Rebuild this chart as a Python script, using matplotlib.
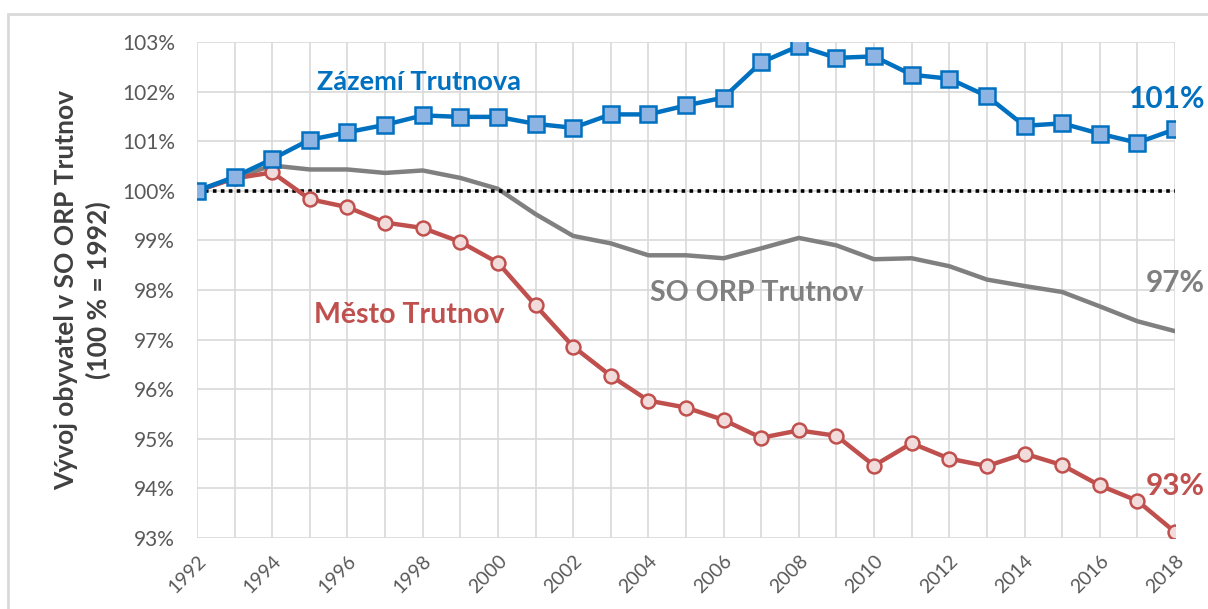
import matplotlib.pyplot as plt
from matplotlib.patches import Rectangle

years = list(range(1992, 2019))

# values in % of 1992
zazemi = [100.0, 100.28, 100.64, 101.03, 101.18, 101.33, 101.52, 101.49, 101.49, 101.35,
          101.27, 101.54, 101.54, 101.72, 101.88, 102.59, 102.92, 102.68, 102.71, 102.34,
          102.26, 101.91, 101.31, 101.36, 101.15, 100.97, 101.24]
orp = [100.0, 100.26, 100.51, 100.43, 100.43, 100.36, 100.41, 100.26, 100.04, 99.53,
       99.09, 98.94, 98.70, 98.70, 98.64, 98.84, 99.05, 98.90, 98.62, 98.64,
       98.48, 98.21, 98.08, 97.96, 97.67, 97.37, 97.17]
mesto = [100.0, 100.25, 100.37, 99.83, 99.67, 99.36, 99.25, 98.97, 98.55, 97.69,
         96.86, 96.27, 95.77, 95.63, 95.38, 95.02, 95.17, 95.06, 94.46, 94.91,
         94.60, 94.45, 94.70, 94.47, 94.06, 93.75, 93.12]

yticks = list(range(93, 104))
xticks = list(range(1992, 2019, 2))

BLUE = '#0070C0'
RED = '#C0504D'
GREY = '#808080'

plt.rcParams['font.family'] = ['Lato', 'DejaVu Sans']

fig = plt.figure(figsize=(12.08, 6.09), dpi=100)
ax = fig.add_axes([197 / 1208, 1 - 538 / 609, (1175 - 197) / 1208, (538 - 42) / 609])

fig.patches.append(Rectangle((8 / 1208, -0.1), 1.2, 1 - 14 / 609 + 0.1,
                             transform=fig.transFigure, fill=False,
                             edgecolor='#d9d9d9', linewidth=2))

ax.plot(years, orp, color=GREY, linewidth=3.2, zorder=3, solid_capstyle='round')
ax.axhline(100, color='black', linestyle=(0, (1, 1.2)), linewidth=2.6, zorder=4)
ax.plot(years, mesto, color=RED, linewidth=3.2, marker='o', markersize=10,
        markerfacecolor='#F2DCDB', markeredgecolor=RED, markeredgewidth=1.8, zorder=5)
ax.plot(years, zazemi, color=BLUE, linewidth=3.2, marker='s', markersize=11,
        markerfacecolor='#8DB4E2', markeredgecolor=BLUE, markeredgewidth=1.8, zorder=6)

ax.set_xlim(1992, 2018)
ax.set_ylim(93, 103)
ax.set_yticks(yticks)
ax.set_yticklabels([f'{v}%' for v in yticks])
ax.set_xticks(years, minor=True)
ax.set_xticks(xticks)
ax.set_xticklabels([str(y) for y in xticks], rotation=45, ha='right', rotation_mode='anchor')
ax.grid(True, which='both', color='#d9d9d9', linewidth=1.2, zorder=0)
ax.set_axisbelow(True)
for s in ax.spines.values():
    s.set_visible(False)
ax.tick_params(which='both', length=0, colors='#595959')
ax.tick_params(axis='y', labelsize=15, pad=16)
ax.tick_params(axis='x', labelsize=14, pad=10)

ax.set_ylabel('Vývoj obyvatel v SO ORP Trutnov\n(100 % = 1992)', fontsize=19,
              fontweight='bold', color='#404040', linespacing=1.35)
ax.yaxis.set_label_coords(-0.088, 0.5)

ax.text(1995.2, 102.2, 'Zázemí Trutnova', color=BLUE, fontsize=19.5, fontweight='bold', va='center')
ax.text(2004.05, 97.93, 'SO ORP Trutnov', color=GREY, fontsize=20.5, fontweight='bold', va='center')
ax.text(1995.1, 97.5, 'Město Trutnov', color=RED, fontsize=20.5, fontweight='bold', va='center')
ax.text(2018.78, 101.85, '101%', color=BLUE, fontsize=21.5, fontweight='bold',
        va='center', ha='right', clip_on=False)
ax.text(2018.78, 98.15, '97%', color=GREY, fontsize=21.5, fontweight='bold',
        va='center', ha='right', clip_on=False)
ax.text(2018.78, 94.05, '93%', color=RED, fontsize=21.5, fontweight='bold',
        va='center', ha='right', clip_on=False)

fig.savefig('out.png', dpi=100)
